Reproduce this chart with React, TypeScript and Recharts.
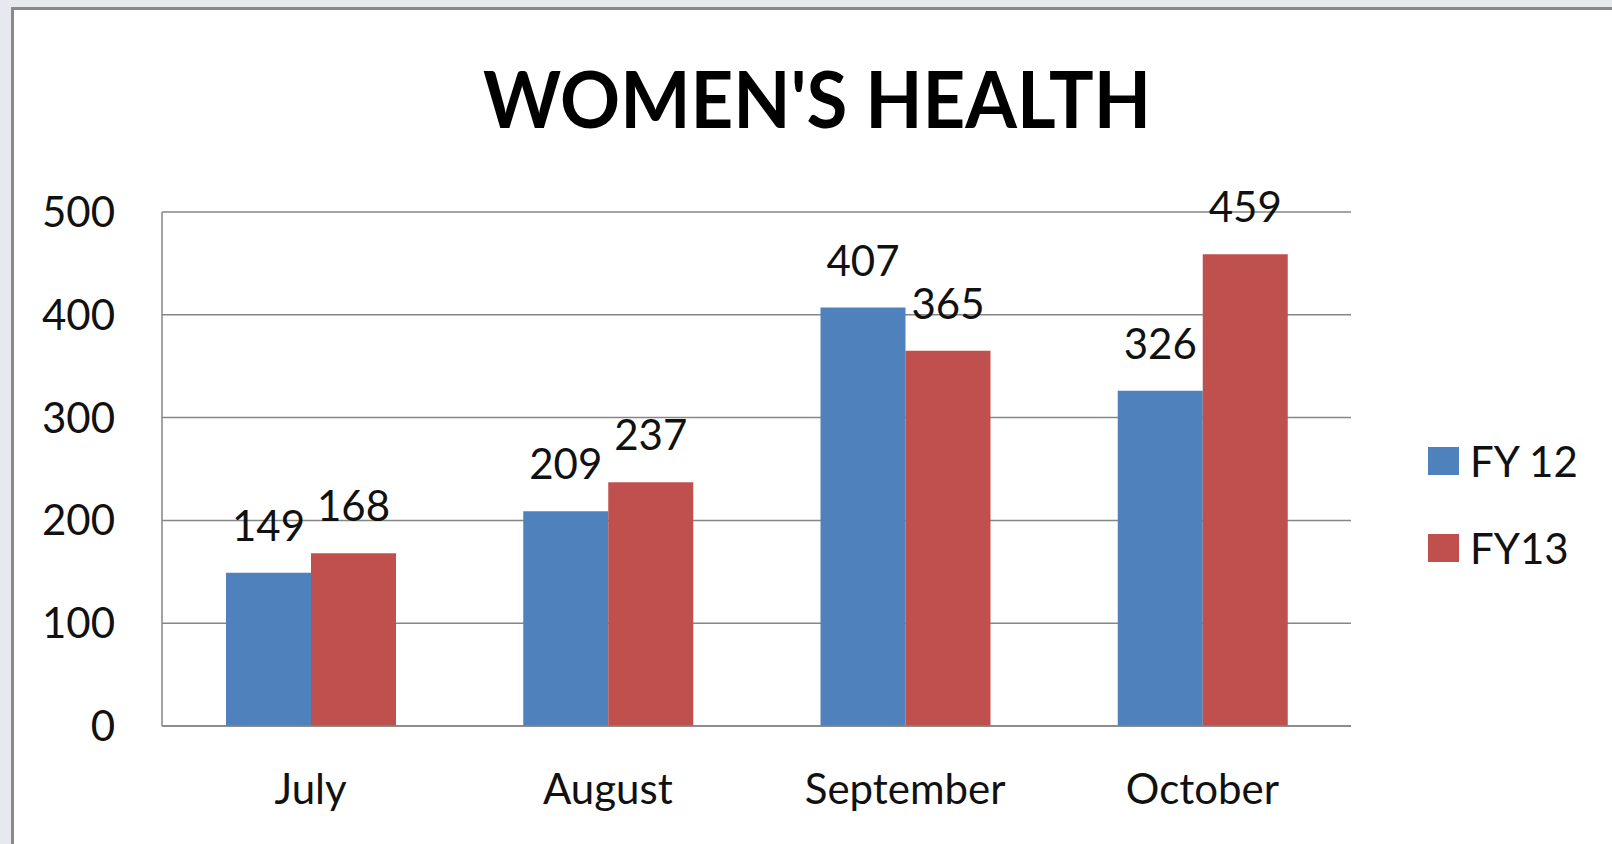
import { Bar, BarChart, CartesianGrid, LabelList, XAxis, YAxis } from 'recharts'

const months = ['July', 'August', 'September', 'October']
const fy12 = [149, 209, 407, 326]
const fy13 = [168, 237, 365, 459]
const yTicks = [0, 100, 200, 300, 400, 500]

const series = [
  { key: 'fy12', name: 'FY 12', color: '#4f81bd' },
  { key: 'fy13', name: 'FY13', color: '#c0504d' },
]

const data = months.map((m, i) => ({ month: m, fy12: fy12[i], fy13: fy13[i] }))

const FONT = 'Lato, "Open Sans", sans-serif'
const GRID = '#868686'

function ValueLabel(props: any) {
  const { x, y, width, value } = props
  return (
    <text
      x={Number(x) + Number(width) / 2}
      y={Number(y) - 32}
      textAnchor="middle"
      fontFamily={FONT}
      fontSize={42}
      fill="#111"
    >
      {value}
    </text>
  )
}

// legend drawn beside the plot, outside recharts layout so it doesn't eat plot space
function LegendBox() {
  return (
    <div style={{ position: 'absolute', left: 1428, top: 417, fontFamily: FONT, fontSize: 42, color: '#111' }}>
      {series.map((s) => (
        <div key={s.key} style={{ display: 'flex', alignItems: 'center', height: 87 }}>
          <span style={{ width: 31, height: 28, background: s.color, marginRight: 11, display: 'inline-block' }} />
          <span>{s.name}</span>
        </div>
      ))}
    </div>
  )
}

export default function App() {
  return (
    <div style={{ position: 'absolute', left: 0, top: 0, width: 1612, height: 844, background: '#e6eaef', overflow: 'hidden' }}>
      <div
        style={{
          position: 'absolute',
          left: 11,
          top: 7,
          width: 1620,
          height: 860,
          background: '#fff',
          borderLeft: '3px solid #8a8a8a',
          borderTop: '3px solid #8a8a8a',
        }}
      />
      <svg width={1612} height={844} style={{ position: 'absolute', left: 0, top: 0 }}>
        <text
          x={817}
          y={128}
          textAnchor="middle"
          fontFamily={FONT}
          fontWeight={700}
          fontSize={78}
          textLength={668}
          lengthAdjust="spacingAndGlyphs"
          fill="#000"
        >
          WOMEN'S HEALTH
        </text>
      </svg>
      <div style={{ position: 'absolute', left: 0, top: 0 }}>
        <BarChart
          width={1612}
          height={844}
          data={data}
          margin={{ top: 212, right: 261, bottom: 38, left: 62 }}
          barCategoryGap={64}
          barGap={0}
        >
          <CartesianGrid stroke={GRID} strokeWidth={1.5} vertical={false} />
          <XAxis
            dataKey="month"
            height={80}
            tickLine={false}
            tickSize={0}
            tickMargin={48}
            axisLine={{ stroke: GRID, strokeWidth: 1.5 }}
            tick={{ fontSize: 42, fontFamily: FONT, fill: '#111' }}
          />
          <YAxis
            width={100}
            domain={[0, 500]}
            ticks={yTicks}
            tickLine={false}
            tickSize={0}
            tickMargin={47}
            axisLine={{ stroke: GRID, strokeWidth: 1.5 }}
            tick={{ fontSize: 42, fontFamily: FONT, fill: '#111' }}
          />
          {series.map((s) => (
            <Bar key={s.key} dataKey={s.key} name={s.name} fill={s.color} isAnimationActive={false}>
              <LabelList dataKey={s.key} content={<ValueLabel />} />
            </Bar>
          ))}
        </BarChart>
      </div>
      <LegendBox />
    </div>
  )
}
